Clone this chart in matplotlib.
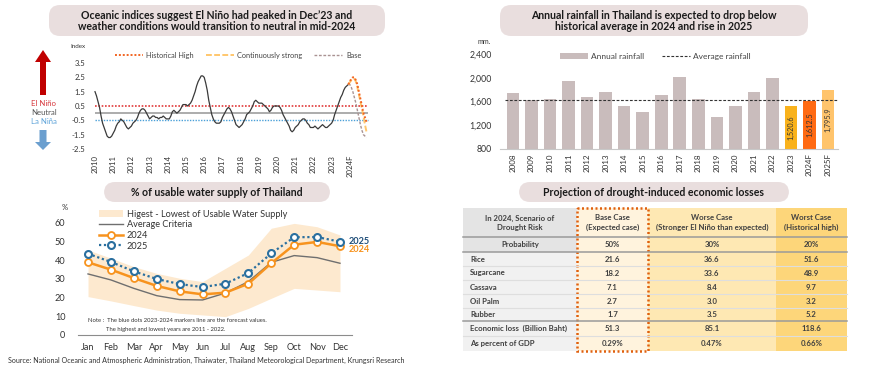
import numpy as np
import matplotlib
matplotlib.use("Agg")
import matplotlib.pyplot as plt
from matplotlib.patches import FancyBboxPatch, FancyArrow, Rectangle, Patch
from matplotlib.lines import Line2D

plt.rcParams['font.family'] = ['Lato', 'DejaVu Sans']

W, H = 870, 369

# ── Oceanic Niño index (monthly, 2010-2023) ─────────────────
oni_years  = list(range(2010, 2025))
oni_labels = [str(y) for y in range(2010, 2024)] + ["2024F"]
oni_index = [
    1.5, 1.2, 0.8, 0.4, -0.2, -0.7, -1.0, -1.3, -1.6, -1.7, -1.7, -1.6,    # 2010
    -1.4, -1.2, -0.9, -0.7, -0.6, -0.4, -0.5, -0.6, -0.8, -1.0, -1.1, -1.0,  # 2011
    -0.9, -0.7, -0.6, -0.5, -0.3, 0.0, 0.2, 0.3, 0.3, 0.2, 0.0, -0.2,      # 2012
    -0.4, -0.3, -0.2, -0.2, -0.3, -0.3, -0.4, -0.3, -0.3, -0.2, -0.3, -0.4,  # 2013
    -0.4, -0.4, -0.2, 0.1, 0.2, 0.1, 0.0, 0.1, 0.2, 0.4, 0.6, 0.6,        # 2014
    0.6, 0.5, 0.6, 0.7, 0.9, 1.2, 1.5, 1.9, 2.2, 2.4, 2.6, 2.6,           # 2015
    2.5, 2.1, 1.6, 0.9, 0.4, -0.1, -0.4, -0.6, -0.7, -0.7, -0.7, -0.6,     # 2016
    -0.3, -0.1, 0.1, 0.3, 0.4, 0.3, 0.1, -0.2, -0.5, -0.8, -0.9, -1.0,     # 2017
    -0.9, -0.8, -0.6, -0.4, -0.1, 0.0, 0.1, 0.3, 0.5, 0.8, 0.9, 0.8,       # 2018
    0.7, 0.7, 0.7, 0.6, 0.5, 0.4, 0.3, 0.1, 0.2, 0.4, 0.5, 0.5,           # 2019
    0.5, 0.5, 0.4, 0.2, -0.1, -0.3, -0.5, -0.7, -0.9, -1.2, -1.3, -1.2,    # 2020
    -1.0, -0.9, -0.8, -0.6, -0.5, -0.4, -0.4, -0.5, -0.7, -0.8, -1.0, -1.0,  # 2021
    -1.0, -0.9, -1.0, -1.1, -1.0, -0.9, -0.8, -0.9, -1.0, -1.0, -0.9, -0.8,  # 2022
    -0.7, -0.5, -0.1, 0.2, 0.5, 0.8, 1.1, 1.3, 1.6, 1.8, 1.9, 2.0,         # 2023
]
# forecasts Dec 2023 .. Dec 2024
hist_high   = [2.0, 2.2, 2.4, 2.5, 2.5, 2.3, 2.0, 1.5, 1.0, 0.5, 0.0, -0.3, -0.6]
cont_strong = [2.0, 2.15, 2.3, 2.4, 2.4, 2.2, 1.8, 1.3, 0.8, 0.3, -0.2, -0.8, -1.3]
base_fc     = [2.0, 2.0, 1.8, 1.5, 1.1, 0.7, 0.2, -0.3, -0.8, -1.2, -1.5, -1.6, -1.7]

# ── Annual rainfall ─────────────────────────────────────────
rain_labels = [str(y) for y in range(2008, 2024)] + ["2024F", "2025F"]
rain_mm = [1750, 1625, 1645, 1945, 1676, 1760, 1524, 1418, 1710, 2013,
           1647, 1344, 1524, 1760, 2000, 1520.6, 1612.5, 1795.9]
avg_rain = 1622

# ── Usable water supply (%) ─────────────────────────────────
months = ["Jan", "Feb", "Mar", "Apr", "May", "Jun",
          "Jul", "Aug", "Sep", "Oct", "Nov", "Dec"]
band_high    = [45.4, 41.0, 36.5, 32.9, 30.3, 28.5, 35.6, 42.7, 57.0, 59.6, 57.8, 53.4]
band_low     = [20.5, 18.2, 15.7, 13.3, 11.6, 10.7, 9.8, 14.2, 19.6, 24.9, 24.0, 23.1]
avg_criteria = [32.6, 29.4, 24.9, 21.0, 18.9, 18.7, 22.4, 28.5, 38.8, 42.4, 41.3, 38.3]
water_2024   = [38.8, 34.9, 30.4, 26.2, 23.3, 21.7, 22.6, 27.4, 38.3, 48.2, 49.7, 47.4]
water_2025   = [43.4, 39.0, 34.0, 29.9, 27.2, 25.6, 27.4, 33.1, 43.6, 52.2, 52.3, 49.8]

# ── Drought losses table ────────────────────────────────────
table_header = ["In 2024, Scenario of\nDrought Risk", "Base Case\n(Expected case)",
                "Worse Case\n(Stronger El Niño than expected)", "Worst Case\n(Historical high)"]
row_labels = ["Probability", "Rice", "Sugarcane", "Cassava", "Oil Palm", "Rubber",
              "Economic loss  (Billion Baht)", "As percent of GDP"]
base_case  = ["50%", "21.6", "18.2", "7.1", "2.7", "1.7", "51.3", "0.29%"]
worse_case = ["30%", "36.6", "33.6", "8.4", "3.0", "3.5", "85.1", "0.47%"]
worst_case = ["20%", "51.6", "48.9", "9.7", "3.2", "5.2", "118.6", "0.66%"]

TXT = "#333333"
BOX = "#e9dede"

fig = plt.figure(figsize=(W / 100, H / 100), dpi=100)

# overlay in pixel coordinates for boxes, arrows, table
ov = fig.add_axes([0, 0, 1, 1])
ov.set_xlim(0, W)
ov.set_ylim(H, 0)
ov.axis("off")


def px_axes(x0, y0, x1, y1):
    return fig.add_axes([x0 / W, 1 - y1 / H, (x1 - x0) / W, (y1 - y0) / H])


def title_box(x0, y0, x1, y1, text):
    ov.add_patch(FancyBboxPatch((x0, y0), x1 - x0, y1 - y0,
                                boxstyle="round,pad=0,rounding_size=11",
                                fc=BOX, ec="none"))
    ov.text((x0 + x1) / 2, (y0 + y1) / 2 + 0.5, text, ha="center", va="center",
            fontsize=7.6, fontweight="bold", color="#1a1a1a", linespacing=1.1)


title_box(49, 5, 385, 36, "Oceanic indices suggest El Niño had peaked in Dec’23 and\n"
                          "weather conditions would transition to neutral in mid-2024")
title_box(500, 5, 808, 36, "Annual rainfall in Thailand is expected to drop below\n"
                           "historical average in 2024 and rise in 2025")
title_box(104, 182, 330, 202, "% of usable water supply of Thailand")
title_box(519, 182, 789, 202, "Projection of drought-induced economic losses")

# ── Panel 1 : ONI ───────────────────────────────────────────
ax1 = px_axes(88, 48, 372, 152)
ax1.set_xlim(2010 - 7 / 18.2, 2010 + 277 / 18.2)
ax1.set_ylim(-2.5 - 3 / 14.333, 3.5 + 15 / 14.333)
oni_x = 2010 + np.arange(len(oni_index)) / 12
fc_x = 2023 + 11 / 12 + np.arange(len(hist_high)) / 12

ax1.hlines(0.5, 2010, 2025, color="#e03a3a", lw=1.2, ls=(0, (1, 1)))
ax1.hlines(0.0, 2010, 2025, color="#a6a6a6", lw=1.3)
ax1.hlines(-0.5, 2010, 2025, color="#4ba0d8", lw=1.0, ls=(0, (1, 1)))
ax1.plot(oni_x, oni_index, color="#3a3a3a", lw=0.9)
ax1.plot(fc_x, base_fc, color="#a99292", lw=1.0, ls=(0, (2, 1.2)), label="Base")
ax1.plot(fc_x, cont_strong, color="#ffc76e", lw=1.4, ls=(0, (3, 1.2)), label="Continuously strong")
ax1.plot(fc_x, hist_high, color="#f26522", lw=1.4, ls=(0, (1, 1)), label="Historical High")

h, l = ax1.get_legend_handles_labels()
ax1.legend(h[::-1], l[::-1], ncol=3, loc="center", bbox_to_anchor=(0.528, 0.93),
           frameon=False, fontsize=5.3, handlelength=3.8, columnspacing=1.6,
           handletextpad=0.5, labelcolor="#444444")

ax1.set_xticks(oni_years)
ax1.set_xticklabels(oni_labels, rotation=90)
ax1.set_yticks([3.5, 2.5, 1.5, 0.5, -0.5, -1.5, -2.5])
ax1.set_yticklabels(["3.5", "2.5", "1.5", "0.5", "-0.5", "-1.5", "-2.5"])
ax1.tick_params(length=0, labelsize=5.6, colors=TXT, pad=2)
for s in ax1.spines.values():
    s.set_visible(False)
ax1.patch.set_alpha(0)
ov.text(70, 46, "Index", fontsize=4.5, color=TXT, va="center")

# El Niño / La Niña markers
ov.add_patch(FancyArrow(43, 95, 0, -45, width=6, head_width=16, head_length=12,
                        length_includes_head=True, color="#c00000", lw=0))
ov.add_patch(FancyArrow(43, 130, 0, 20, width=7, head_width=16, head_length=8,
                        length_includes_head=True, color="#6b9fcf", lw=0))
ov.text(44, 103, "El Niño", ha="center", va="center", fontsize=5.6, color="#d6353a")
ov.text(44, 112.5, "Neutral", ha="center", va="center", fontsize=5.6, color="#555555")
ov.text(44, 121, "La Niña", ha="center", va="center", fontsize=5.6, color="#5da3d9")

# ── Panel 2 : rainfall ──────────────────────────────────────
ax2 = px_axes(500, 45, 838, 149)
xr = np.arange(len(rain_mm))
ax2.set_xlim(-13 / 18.53, 17 + 10 / 18.53)
ax2.set_ylim(800, 800 + 104 * 1600 / 95)
bar_colors = ["#c9bcbc"] * 15 + ["#f9b21c", "#ff6a13", "#ffc46c"]
ax2.bar(xr, np.array(rain_mm) - 800, bottom=800, width=0.68, color=bar_colors,
        label="Annual rainfall")
ax2.hlines(avg_rain, -0.45, 17.5, color="#333333", lw=0.8, ls=(0, (2.5, 1.5)),
           label="Average rainfall")
for i in range(15, 18):
    ax2.text(xr[i], (800 + rain_mm[i]) / 2, f"{rain_mm[i]:,.1f}", rotation=90,
             ha="center", va="center", fontsize=5.2, color="#333333")
h, l = ax2.get_legend_handles_labels()
ax2.legend(h[::-1], l[::-1], ncol=2, loc="center", bbox_to_anchor=(0.46, 0.89),
           frameon=False, fontsize=6, handlelength=3.3, handleheight=0.7,
           columnspacing=2.2, handletextpad=0.4, labelcolor="#444444")
ax2.set_xticks(xr)
ax2.set_xticklabels(rain_labels, rotation=90)
ax2.set_yticks([800, 1200, 1600, 2000, 2400])
ax2.set_yticklabels(["800", "1,200", "1,600", "2,000", "2,400"])
ax2.tick_params(length=0, labelsize=6.3, colors=TXT)
ax2.tick_params(axis="y", pad=6)
ax2.tick_params(axis="x", pad=3, labelsize=5.8)
for k, s in ax2.spines.items():
    s.set_visible(k == "bottom")
ax2.spines["bottom"].set_color("#c8c8c8")
ax2.patch.set_alpha(0)
ov.text(478, 41, "mm.", fontsize=5, color=TXT, va="center")

# ── Panel 3 : water supply ──────────────────────────────────
ax3 = px_axes(78, 205, 352, 335)
xm = np.arange(12)
ax3.set_xlim(-10 / 22.9, 11 + 12 / 22.9)
ax3.set_ylim(0, 130 / 1.873)
ax3.fill_between(xm, band_low, band_high, color="#fde9cf", lw=0,
                 label="Higest - Lowest of Usable Water Supply")
ax3.plot(xm, avg_criteria, color="#6f6f6f", lw=1.0, label="Average Criteria")
ax3.plot(xm, water_2024, color="#f7931e", lw=1.8, marker="o", ms=5,
         mfc="white", mew=1.3, label="2024")
ax3.plot(xm, water_2025, color="#2a6f9f", lw=1.6, ls=(0, (1, 1.2)), marker="o", ms=5,
         mfc="white", mew=1.5, label="2025")
ax3.annotate("2025", (11, water_2025[-1]), xytext=(6, 0.5), textcoords="offset points",
             fontsize=6.6, fontweight="bold", color="#1f4e79", va="center")
ax3.annotate("2024", (11, water_2024[-1]), xytext=(6, -2.5), textcoords="offset points",
             fontsize=6.6, fontweight="bold", color="#f7931e", va="center")
ax3.legend(loc="upper left", bbox_to_anchor=(0.06, 1.0), frameon=False, fontsize=6.6,
           handlelength=2.6, handleheight=0.8, labelspacing=0.18, handletextpad=0.4,
           borderpad=0, labelcolor="#333333")
ax3.set_xticks(xm)
ax3.set_xticklabels(months)
ax3.set_yticks(range(0, 61, 10))
ax3.tick_params(length=0, labelsize=6.6, colors=TXT)
ax3.tick_params(axis="y", pad=9)
ax3.tick_params(axis="x", pad=6)
for k, s in ax3.spines.items():
    s.set_visible(k == "bottom")
ax3.spines["bottom"].set_color("#8c8c8c")
ax3.patch.set_alpha(0)
ov.text(62, 208, "%", fontsize=5.5, color=TXT, va="center")
ov.text(88, 321, "Note :  The blue dots 2023-2024 markers line are the forecast values.",
        fontsize=4.2, color=TXT, va="center")
ov.text(106, 330, "The highest and lowest years are 2011 - 2022.",
        fontsize=4.2, color=TXT, va="center")

ov.text(8, 360, "Source: National Oceanic and Atmospheric Administration, Thaiwater, "
        "Thailand Meteorological Department, Krungsri Research",
        fontsize=5.1, color=TXT, va="center")

# ── Panel 4 : table ─────────────────────────────────────────
col_x = [463, 577, 648, 776, 847]
row_y = [208, 237, 252, 266, 280, 294, 308, 321, 336, 351]
col_fill = ["#f1f1f1", "#fff3dd", "#fee8b3", "#fdd67a"]
cols = [row_labels, base_case, worse_case, worst_case]

for c in range(4):
    for r in range(len(row_y) - 1):
        fc = col_fill[c]
        if c == 0 and r < 2:
            fc = "#e4e4e4"
        ov.add_patch(Rectangle((col_x[c], row_y[r]), col_x[c + 1] - col_x[c],
                               row_y[r + 1] - row_y[r], fc=fc, ec="none"))

# row separators
for r in range(1, len(row_y) - 1):
    if r in (1, 2, 7):
        ov.plot([col_x[0], col_x[-1]], [row_y[r], row_y[r]], color="#9a9a9a", lw=1.1)
    else:
        ov.plot([col_x[0], col_x[-1]], [row_y[r], row_y[r]], color="#dedede", lw=0.8)

for c in range(4):
    xc = (col_x[c] + col_x[c + 1]) / 2
    ov.text(xc, (row_y[0] + row_y[1]) / 2, table_header[c], ha="center", va="center",
            fontsize=5.6, fontweight="bold", color="#404040", linespacing=1.35)
    for r, val in enumerate(cols[c]):
        yc = (row_y[r + 1] + row_y[r + 2]) / 2
        if c == 0 and r > 0:
            ov.text(col_x[0] + 7, yc, val, ha="left", va="center", fontsize=5.6,
                    fontweight="bold", color="#404040")
        else:
            ov.text(xc, yc, val, ha="center", va="center", fontsize=5.6,
                    fontweight="bold", color="#404040")

ov.add_patch(Rectangle((col_x[1], row_y[0]), col_x[2] - col_x[1], row_y[-1] - row_y[0],
                       fc="none", ec="#e0600e", lw=1.8, ls=(0, (0.8, 1.0))))

fig.savefig("out.png", dpi=100)
